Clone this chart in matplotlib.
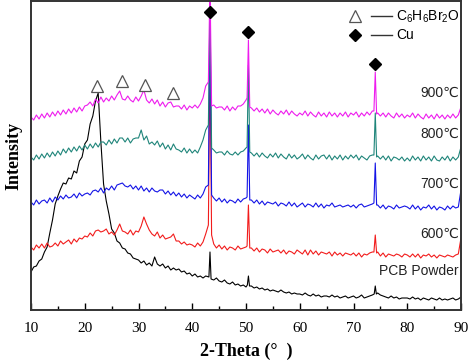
import numpy as np
import matplotlib
matplotlib.use("Agg")
import matplotlib.pyplot as plt
from matplotlib.lines import Line2D
from matplotlib.legend_handler import HandlerTuple
from matplotlib.ticker import MultipleLocator

# 2-theta grid, 10..90 step 0.5
two_theta = np.arange(10, 90.01, 0.5)

pcb = [38, 43, 44, 49, 51, 58, 63, 77, 90, 106, 114, 121, 127, 126, 132, 131, 139, 137, 149, 153,
       166, 170, 186, 194, 209, 217, 168, 126, 109, 96, 81, 77, 69, 67, 62, 61, 57, 56, 52, 51,
       50, 47, 49, 45, 47, 44, 53, 46, 44, 46, 42, 44, 40, 42, 40, 41, 38, 39, 36, 37,
       34, 36, 33, 34, 32, 34, 33, 31, 30, 32, 29, 28, 30, 27, 26, 28, 25, 26, 24, 25,
       23, 26, 24, 22, 23, 21, 22, 20, 21, 19, 20, 19, 18, 20, 18, 17, 18, 16, 17, 16,
       16, 15, 17, 15, 14, 16, 14, 15, 13, 14, 14, 13, 15, 13, 14, 12, 13, 14, 12, 13,
       14, 12, 13, 15, 12, 13, 14, 15, 16, 17, 15, 14, 13, 12, 14, 12, 13, 11, 12, 12,
       12, 11, 13, 11, 12, 10, 12, 11, 10, 12, 11, 10, 12, 10, 11, 10, 11, 12, 10, 11,
       13]

t600 = [63, 60, 65, 62, 66, 62, 67, 63, 64, 67, 64, 69, 66, 68, 70, 66, 71, 68, 72, 71,
        74, 73, 77, 74, 79, 80, 78, 79, 81, 76, 78, 75, 80, 86, 79, 78, 76, 80, 75, 79,
        78, 84, 93, 86, 80, 76, 74, 78, 72, 75, 71, 72, 73, 76, 69, 69, 66, 68, 65, 66,
        65, 63, 67, 64, 68, 76, 85, 80, 66, 62, 65, 61, 64, 60, 63, 62, 60, 64, 61, 62,
        63, 62, 62, 59, 62, 58, 61, 60, 57, 61, 58, 59, 60, 57, 60, 56, 59, 58, 56, 60,
        58, 56, 60, 55, 60, 56, 59, 55, 58, 57, 56, 58, 54, 58, 55, 57, 54, 57, 56, 55,
        57, 54, 57, 53, 56, 55, 57, 58, 59, 58, 54, 57, 53, 56, 55, 54, 56, 55, 53, 56,
        55, 53, 56, 53, 56, 52, 55, 54, 56, 53, 55, 52, 55, 54, 53, 55, 54, 53, 55, 56,
        72]

t700 = [108, 105, 110, 106, 109, 110, 107, 112, 108, 113, 110, 114, 111, 115, 112, 113, 116, 112, 117, 114,
        116, 117, 115, 119, 120, 118, 122, 117, 122, 120, 124, 120, 125, 126, 127, 124, 123, 125, 121, 124,
        120, 124, 119, 122, 118, 122, 119, 118, 120, 120, 116, 119, 115, 118, 114, 117, 113, 116, 112, 115,
        113, 111, 115, 112, 116, 123, 150, 150, 112, 109, 112, 108, 111, 107, 110, 109, 107, 111, 108, 111,
        112, 112, 110, 107, 110, 106, 109, 105, 108, 107, 106, 108, 104, 107, 106, 104, 108, 104, 107, 103,
        105, 107, 103, 106, 105, 103, 107, 103, 106, 102, 105, 104, 107, 103, 104, 105, 103, 104, 105, 103,
        105, 102, 105, 106, 103, 104, 105, 106, 106, 105, 102, 105, 101, 104, 103, 101, 105, 102, 103, 104,
        103, 101, 105, 101, 104, 100, 103, 102, 105, 101, 104, 100, 103, 102, 100, 104, 101, 104, 102, 103,
        120]

t800 = [153, 150, 155, 151, 156, 152, 157, 153, 158, 154, 159, 155, 161, 157, 162, 158, 163, 159, 164, 160,
        165, 161, 166, 162, 167, 163, 168, 168, 165, 170, 166, 171, 167, 172, 172, 168, 172, 167, 171, 172,
        172, 180, 170, 174, 166, 168, 165, 169, 163, 167, 161, 165, 160, 166, 161, 160, 158, 162, 157, 161,
        157, 160, 157, 163, 170, 180, 180, 170, 160, 157, 158, 158, 155, 159, 156, 155, 158, 155, 158, 159,
        162, 162, 157, 154, 157, 153, 157, 154, 152, 156, 153, 157, 152, 156, 153, 151, 156, 152, 155, 151,
        153, 156, 151, 155, 152, 150, 155, 151, 154, 155, 151, 155, 150, 154, 151, 155, 150, 154, 151, 155,
        152, 155, 150, 154, 152, 150, 154, 155, 155, 154, 151, 154, 150, 154, 149, 153, 152, 150, 153, 149,
        152, 149, 154, 150, 153, 149, 154, 150, 153, 149, 154, 150, 149, 153, 150, 154, 149, 153, 150, 153,
        163]

t900 = [193, 190, 195, 191, 196, 192, 197, 193, 198, 194, 199, 195, 200, 196, 201, 197, 202, 198, 203, 199,
        204, 205, 208, 204, 211, 207, 213, 208, 212, 209, 214, 210, 215, 219, 211, 210, 214, 210, 208, 213,
        209, 214, 220, 210, 207, 211, 206, 210, 204, 208, 203, 207, 208, 203, 204, 204, 201, 205, 200, 204,
        202, 205, 202, 206, 212, 224, 224, 210, 205, 202, 203, 203, 200, 204, 199, 203, 200, 204, 204, 206,
        210, 210, 202, 199, 202, 198, 201, 197, 201, 196, 200, 197, 195, 199, 196, 200, 195, 199, 196, 194,
        197, 195, 199, 194, 198, 195, 193, 198, 194, 197, 193, 198, 194, 197, 193, 197, 194, 198, 193, 197,
        195, 198, 193, 197, 194, 198, 195, 199, 199, 197, 194, 197, 193, 197, 194, 192, 197, 193, 196, 192,
        195, 193, 197, 192, 196, 193, 191, 196, 192, 195, 191, 196, 192, 195, 191, 195, 192, 196, 192, 195,
        203]

# Cu reflections: (2theta, intensity) points of each sharp peak
peak_centers = [43.3, 50.45, 74.05]
pcb_peaks = [(43.1, 33), (43.3, 58), (43.5, 31), (50.25, 25), (50.45, 34), (50.65, 24),
             (73.85, 16), (74.05, 24), (74.25, 16)]
t600_peaks = [(43.0, 85), (43.3, 250), (43.6, 75), (50.2, 64), (50.45, 105), (50.7, 62),
              (73.8, 58), (74.05, 75), (74.3, 57)]
t700_peaks = [(43.0, 125), (43.3, 300), (43.6, 115), (50.2, 113), (50.45, 185), (50.7, 110),
              (73.8, 107), (74.05, 147), (74.3, 105)]
t800_peaks = [(43.0, 185), (43.3, 305), (43.6, 162), (50.2, 163), (50.45, 245), (50.7, 158),
              (73.8, 155), (74.05, 197), (74.3, 153)]
t900_peaks = [(43.0, 228), (43.3, 330), (43.6, 204), (50.2, 212), (50.45, 270), (50.7, 203),
              (73.8, 199), (74.05, 238), (74.3, 196)]

# marker positions
cu_x = [43.3, 50.45, 74.05]
cu_y = [298, 278, 246]
org_x = [22.3, 26.9, 31.2, 36.4]
org_y = [224, 229, 225, 217]

labels = ['PCB Powder', '600\u2103', '700\u2103', '800\u2103', '900\u2103']
label_y = [32, 69, 119, 169, 210]
colors = ['black', '#f21c1c', '#1414e6', '#1f857a', '#ee1cee']


def merge(base, peaks):
    x = np.asarray(two_theta)
    y = np.asarray(base, dtype=float)
    keep = np.ones_like(x, dtype=bool)
    for c in peak_centers:
        keep &= np.abs(x - c) > 0.32
    px = np.array([p[0] for p in peaks])
    py = np.array([p[1] for p in peaks])
    xx = np.concatenate([x[keep], px])
    yy = np.concatenate([y[keep], py])
    order = np.argsort(xx)
    return xx[order], yy[order]


series = [(pcb, pcb_peaks), (t600, t600_peaks), (t700, t700_peaks),
          (t800, t800_peaks), (t900, t900_peaks)]

fig = plt.figure(figsize=(4.74, 3.6), dpi=100)
ax = fig.add_axes([31 / 474, 50 / 360, 430 / 474, 309 / 360])

for (base, pk), col in zip(series, colors):
    x, y = merge(base, pk)
    ax.plot(x, y, color=col, lw=0.8)

ax.plot(cu_x, cu_y, ls='none', marker='D', ms=6.5, color='black')
ax.plot(org_x, org_y, ls='none', marker='^', ms=9, mfc='white', mec='#555555', mew=0.9)

for lab, ly in zip(labels, label_y):
    ax.text(89.6, ly, lab, ha='right', va='bottom', fontsize=10,
            family=['Liberation Sans', 'DejaVu Sans'], color='#222222')

# legend: marker then a short dash, then the name
tri = Line2D([], [], ls='none', marker='^', ms=8, mfc='white', mec='#555555', mew=0.9)
dia = Line2D([], [], ls='none', marker='D', ms=6, color='black')
dash = Line2D([], [], color='#333333', lw=1)
leg = ax.legend([(tri, dash), (dia, dash)],
                [r'$\mathregular{C_6H_6Br_2O}$', 'Cu'],
                handler_map={tuple: HandlerTuple(ndivide=None, pad=0.4)},
                loc='upper right', bbox_to_anchor=(1.026, 1.016), frameon=False,
                handlelength=3.4, handletextpad=0.3, labelspacing=0.25,
                prop={'family': 'Liberation Sans', 'size': 10})

ax.set_xlim(10, 90)
ax.set_ylim(0, 309)
ax.set_yticks([])
ax.xaxis.set_major_locator(MultipleLocator(10))
ax.xaxis.set_minor_locator(MultipleLocator(5))
ax.tick_params(axis='x', which='major', direction='in', length=5, width=1, pad=9)
ax.tick_params(axis='x', which='minor', direction='in', length=3, width=1)
for lab in ax.get_xticklabels():
    lab.set_family('Liberation Serif')
    lab.set_fontsize(11)
for s in ax.spines.values():
    s.set_linewidth(1.4)
    s.set_color('#333333')

ax.set_xlabel('2-Theta (\u00b0  )', family='Liberation Serif', fontweight='bold',
              fontsize=13, labelpad=5)
ax.set_ylabel('Intensity', family='Liberation Serif', fontweight='bold',
              fontsize=13, labelpad=6)

fig.savefig('out.png', dpi=100)
